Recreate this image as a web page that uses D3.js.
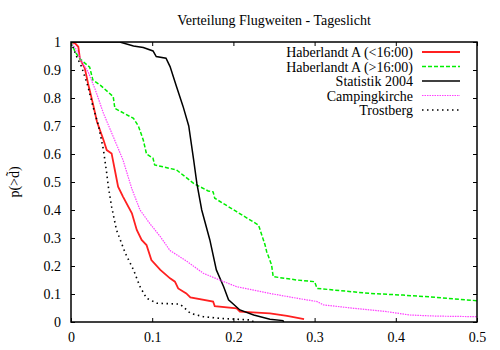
<!DOCTYPE html>
<html lang="de">
<head>
<meta charset="UTF-8">
<script src="https://d3js.org/d3.v7.min.js"></script>
<style>
  body { margin: 0; background: #fff; }
  svg { display: block; font-family: "Liberation Serif", "DejaVu Serif", serif; }
</style>
</head>
<body>
<svg id="chart" width="500" height="350"></svg>
<script>
// ---- data ----
const xTicks = [0, 0.1, 0.2, 0.3, 0.4, 0.5];
const yTicks = [0, 0.1, 0.2, 0.3, 0.4, 0.5, 0.6, 0.7, 0.8, 0.9, 1];
const seriesNames = ["Haberlandt A (<16:00)", "Haberlandt A (>16:00)", "Statistik 2004", "Campingkirche", "Trostberg"];

const haberlandtEarly = [
  [0, 1], [0.005, 0.995], [0.009, 0.983], [0.011, 0.94], [0.017, 0.906], [0.021, 0.852],
  [0.027, 0.78], [0.032, 0.715], [0.040, 0.65], [0.044, 0.614], [0.050, 0.602], [0.054, 0.543],
  [0.058, 0.483], [0.064, 0.448], [0.075, 0.388], [0.081, 0.329], [0.087, 0.293], [0.093, 0.275],
  [0.099, 0.221], [0.110, 0.186], [0.122, 0.156], [0.128, 0.144], [0.132, 0.12], [0.142, 0.102],
  [0.147, 0.088], [0.175, 0.073], [0.177, 0.057], [0.204, 0.049], [0.208, 0.037], [0.245, 0.031],
  [0.266, 0.022], [0.287, 0.01]
];
const haberlandtLate = [
  [0, 1], [0.005, 0.965], [0.011, 0.94], [0.023, 0.91], [0.027, 0.864], [0.036, 0.846],
  [0.052, 0.805], [0.054, 0.763], [0.077, 0.727], [0.083, 0.70], [0.089, 0.65], [0.093, 0.6],
  [0.101, 0.585], [0.103, 0.561], [0.130, 0.543], [0.151, 0.495], [0.169, 0.468], [0.175, 0.465],
  [0.177, 0.442], [0.204, 0.394], [0.231, 0.346], [0.239, 0.275], [0.241, 0.251], [0.247, 0.204],
  [0.249, 0.162], [0.278, 0.15], [0.300, 0.144], [0.303, 0.12], [0.368, 0.102], [0.409, 0.096],
  [0.45, 0.088], [0.5, 0.076]
];
const statistik = [
  [0, 1], [0.060, 1], [0.077, 0.986], [0.089, 0.98], [0.101, 0.968], [0.105, 0.948],
  [0.117, 0.942], [0.122, 0.912], [0.130, 0.84], [0.138, 0.77], [0.145, 0.70], [0.151, 0.58],
  [0.155, 0.495], [0.161, 0.40], [0.171, 0.293], [0.179, 0.186], [0.188, 0.126], [0.194, 0.079],
  [0.208, 0.043], [0.225, 0.025], [0.245, 0.01], [0.261, 0.005], [0.262, 0]
];
const campingkirche = [
  [0, 1], [0.007, 0.971], [0.013, 0.93], [0.021, 0.894], [0.030, 0.829], [0.040, 0.745],
  [0.052, 0.662], [0.064, 0.579], [0.075, 0.475], [0.085, 0.40], [0.097, 0.352], [0.110, 0.305],
  [0.122, 0.255], [0.134, 0.233], [0.142, 0.218], [0.163, 0.174], [0.183, 0.15], [0.204, 0.126],
  [0.245, 0.102], [0.278, 0.085], [0.303, 0.073], [0.311, 0.061], [0.348, 0.049], [0.389, 0.037],
  [0.417, 0.025], [0.45, 0.021], [0.5, 0.019]
];
const trostberg = [
  [0, 1], [0.003, 0.977], [0.007, 0.948], [0.013, 0.912], [0.021, 0.84], [0.027, 0.77],
  [0.034, 0.70], [0.040, 0.614], [0.044, 0.531], [0.046, 0.483], [0.050, 0.412], [0.056, 0.329],
  [0.067, 0.245], [0.077, 0.186], [0.085, 0.126], [0.093, 0.085], [0.106, 0.067], [0.134, 0.064],
  [0.138, 0.055], [0.147, 0.031], [0.163, 0.019], [0.183, 0.013], [0.222, 0.007], [0.225, 0]
];

const series = [haberlandtEarly, haberlandtLate, statistik, campingkirche, trostberg];
const colors = ["#ff2020", "#00ee00", "#000000", "#ff40ff", "#000000"];
const dashes = [null, "4,2", null, "1.5,1", "1.5,3.5"];
const widths = [1.8, 1.5, 1.5, 1.2, 1.6];

// ---- layout ----
const svg = d3.select("#chart");
const mLeft = 71, mRight = 477, mTop = 42, mBottom = 322;

const x = d3.scaleLinear().domain([0, 0.5]).range([mLeft, mRight]);
const y = d3.scaleLinear().domain([0, 1]).range([mBottom, mTop]);

svg.append("text")
  .attr("x", 274).attr("y", 25)
  .attr("text-anchor", "middle")
  .style("font-size", "14px")
  .text("Verteilung Flugweiten - Tageslicht");

// clip for curves
svg.append("clipPath").attr("id", "clip")
  .append("rect").attr("x", mLeft).attr("y", mTop).attr("width", mRight - mLeft).attr("height", mBottom - mTop);

// axes with inward ticks on all sides
const tickLen = 4;
svg.append("g").attr("transform", `translate(0,${mBottom})`)
  .call(d3.axisBottom(x).tickValues(xTicks).tickFormat(d3.format("")).tickSizeInner(-tickLen).tickSizeOuter(0).tickPadding(10))
  .call(g => g.select(".domain").remove());
svg.append("g").attr("transform", `translate(0,${mTop})`)
  .call(d3.axisTop(x).tickValues(xTicks).tickFormat("").tickSizeInner(-tickLen).tickSizeOuter(0))
  .call(g => g.select(".domain").remove());
svg.append("g").attr("transform", `translate(${mLeft},0)`)
  .call(d3.axisLeft(y).tickValues(yTicks).tickFormat(d3.format("")).tickSizeInner(-tickLen).tickSizeOuter(0).tickPadding(10))
  .call(g => g.select(".domain").remove());
svg.append("g").attr("transform", `translate(${mRight},0)`)
  .call(d3.axisRight(y).tickValues(yTicks).tickFormat("").tickSizeInner(-tickLen).tickSizeOuter(0))
  .call(g => g.select(".domain").remove());

svg.selectAll(".tick line").attr("stroke", "#000").attr("stroke-width", 1);
svg.selectAll(".tick text")
  .style("font-family", "Liberation Serif, serif")
  .style("font-size", "14px")
  .attr("fill", "#000");

svg.append("text")
  .attr("transform", "translate(19,182) rotate(-90)")
  .attr("text-anchor", "middle")
  .style("font-size", "14px")
  .text("p(>d\u0303)");

// curves
const line = d3.line().x(d => x(d[0])).y(d => y(d[1]));
const plot = svg.append("g").attr("clip-path", "url(#clip)");
series.forEach((s, i) => {
  plot.append("path")
    .datum(s)
    .attr("d", line)
    .attr("fill", "none")
    .attr("stroke", colors[i])
    .attr("stroke-width", widths[i])
    .attr("stroke-dasharray", dashes[i]);
});

// frame
svg.append("rect")
  .attr("x", mLeft).attr("y", mTop).attr("width", mRight - mLeft).attr("height", mBottom - mTop)
  .attr("fill", "none").attr("stroke", "#000").attr("stroke-width", 1.5);

// legend
const legend = svg.append("g");
seriesNames.forEach((name, i) => {
  const ly = 52 + i * 14.5;
  legend.append("text")
    .attr("x", 413).attr("y", ly + 5)
    .attr("text-anchor", "end")
    .style("font-size", "14px")
    .text(name);
  legend.append("line")
    .attr("x1", 422).attr("x2", 460).attr("y1", ly).attr("y2", ly)
    .attr("stroke", colors[i])
    .attr("stroke-width", widths[i])
    .attr("stroke-dasharray", dashes[i]);
});
</script>
</body>
</html>
